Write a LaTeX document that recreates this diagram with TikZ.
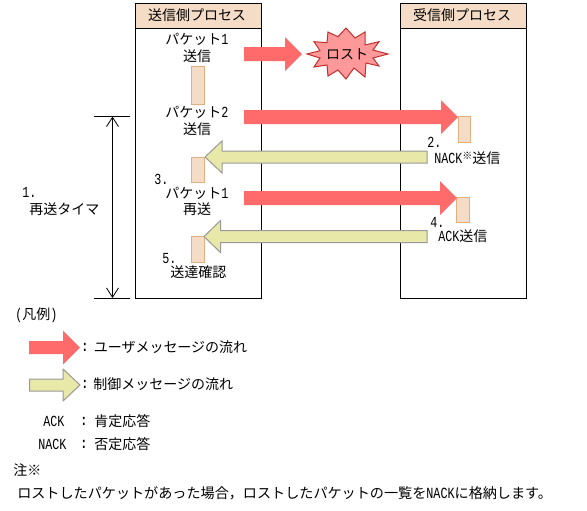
\documentclass[tikz,border=0pt]{standalone}
\usepackage{fontspec}
\setmainfont{Noto Sans CJK JP}
\newfontfamily\hw[FakeStretch=0.76,Scale=1.1]{Liberation Mono}
\usetikzlibrary{arrows.meta}
\definecolor{redarrow}{HTML}{FF6B6B}
\definecolor{yelarrow}{HTML}{E8E8A8}
\definecolor{yeledge}{HTML}{999999}
\definecolor{peach}{HTML}{F5DCC6}
\definecolor{peachedge}{HTML}{E0B080}
\definecolor{starfill}{HTML}{FF9999}
\definecolor{staredge}{HTML}{C03030}
\tikzset{
  lbl/.style={inner sep=0pt,font=\fontsize{10.5pt}{12pt}\selectfont},
  lw/.style={lbl,anchor=west},
  colonmark/.style={lbl,font=\fontsize{10.5pt}{12pt}\selectfont\hw\bfseries},
  procbox/.style={draw=black,line width=0.75pt,fill=white},
  headbox/.style={draw=black,line width=0.75pt,fill=peach},
  bar/.style={draw=peachedge,line width=0.75pt,fill=peach},
  redblock/.style={fill=redarrow},
  yelblock/.style={draw=yeledge,line width=0.75pt,fill=yelarrow},
  dimline/.style={draw=black,line width=0.6pt},
  dimarrow/.style={dimline,{Straight Barb[length=7pt,width=9pt]}-{Straight Barb[length=7pt,width=9pt]}},
}
% style, tail x, head base x, tip x, centre y, shaft half, head half
\newcommand{\blockarrow}[7]{\path[#1] (#2,#5-#6) -- (#3,#5-#6) -- (#3,#5-#7) -- (#4,#5) -- (#3,#5+#7) -- (#3,#5+#6) -- (#2,#5+#6) -- cycle;}
\begin{document}
\begin{tikzpicture}[x=0.75pt,y=-0.75pt]
\useasboundingbox (0,0) rectangle (587,511);
% process boxes
\path[procbox] (135.5,3.5) rectangle (261,298);
\path[headbox] (135.5,3.5) rectangle (261,28);
\path[procbox] (400.5,3.5) rectangle (526,298);
\path[headbox] (400.5,3.5) rectangle (526,28);
\node[lbl] (sendtitle) at (197,15.5) {送信側プロセス};
\node[lbl] (recvtitle) at (462,15.5) {受信側プロセス};
% activity bars
\path[bar] (191.5,66) rectangle (204.5,104.5);
\path[bar] (191.5,157) rectangle (204.5,182.5);
\path[bar] (191.5,236.5) rectangle (204.5,262);
\path[bar] (458.5,116.5) rectangle (470.5,142.5);
\path[bar] (456.5,197.5) rectangle (469.5,222.5);
% lost star
\path[draw=staredge,line width=0.75pt,fill=starfill] (307,54) -- (320,50.7) -- (314,41.7) -- (327,42.7) -- (328,32) -- (338,36.7) -- (346,28) -- (355,38) -- (365,32) -- (365,45) -- (379,41.7) -- (373,50) -- (388,54) -- (373,58) -- (379,66) -- (366,63) -- (365,77) -- (354,68) -- (346,79) -- (338,70) -- (328,76) -- (327,65) -- (314,67) -- (320,58) -- cycle;
\node[lbl] (lost) at (347,54) {ロスト};
% block arrows
\blockarrow{redblock}{244}{285}{302}{54}{7}{17}
\blockarrow{redblock}{244}{441}{458}{117}{7}{17}
\blockarrow{redblock}{244}{440}{457}{198}{7}{17}
\blockarrow{yelblock}{427}{222}{205}{157}{6}{16}
\blockarrow{yelblock}{427}{220.5}{204}{236.5}{6}{16}
% labels in the sender
\node[lbl] (p1) at (197,39) {パケット{\hw 1}};
\node[lbl] (p1s) at (197,56) {送信};
\node[lbl] (p2) at (197,112) {パケット{\hw 2}};
\node[lbl] (p2s) at (197,129) {送信};
\node[lw] (n3) at (154,179) {{\hw 3.}};
\node[lbl] (p1r) at (197,193) {パケット{\hw 1}};
\node[lbl] (p1rs) at (197,209) {再送};
\node[lw] (n5) at (162,259) {{\hw 5.}};
\node[lw] (ack5) at (170,272.5) {送達確認};
% labels in the receiver
\node[lw] (n2) at (427,142) {{\hw 2.}};
\node[lw] (nacks) at (434,158) {{\hw NACK}\raisebox{2.5pt}{\fontsize{7.5pt}{8pt}\selectfont ※}送信};
\node[lw] (n4) at (430,222) {{\hw 4.}};
\node[lw] (acks) at (438,236) {{\hw ACK}送信};
% timer dimension
\coordinate (dtl) at (94,116.5);
\coordinate (dtr) at (130,116.5);
\coordinate (dbl) at (94,298);
\coordinate (dbr) at (130,298);
\coordinate (dtop) at (112.5,116.5);
\coordinate (dbot) at (112.5,298);
\draw[dimline] (dtl) -- (dtr);
\draw[dimline] (dbl) -- (dbr);
\draw[dimarrow] (dtop) -- (dbot);
\node[lw] (n1) at (22,192) {{\hw 1.}};
\node[lw] (timer) at (29,209) {再送タイマ};
% legend
\node[lw] (legend) at (15,315) {{\hw (}凡例{\hw )}};
\blockarrow{redblock}{29}{63}{80}{347.5}{6.5}{17}
\blockarrow{yelblock}{29.5}{63}{80}{385}{6}{16}
\node[colonmark] (c1) at (85,347) {:};
\node[lw] (leg1) at (93.5,347) {ユーザメッセージの流れ};
\node[colonmark] (c2) at (85,384) {:};
\node[lw] (leg2) at (93,384) {制御メッセージの流れ};
\node[lw] (ack) at (43,421) {{\hw ACK}};
\node[colonmark] (c3) at (84,421) {:};
\node[lw] (ackd) at (94,421) {肯定応答};
\node[lw] (nack) at (38,444) {{\hw NACK}};
\node[colonmark] (c4) at (84,444) {:};
\node[lw] (nackd) at (94,444) {否定応答};
\node[lw] (note) at (13,470) {注※};
\node[lw,font=\fontsize{10.58pt}{12pt}\selectfont] (notetext) at (17,493) {ロストしたパケットがあった場合，ロストしたパケットの一覧を{\hw NACK}に格納します。};
\end{tikzpicture}
\end{document}
